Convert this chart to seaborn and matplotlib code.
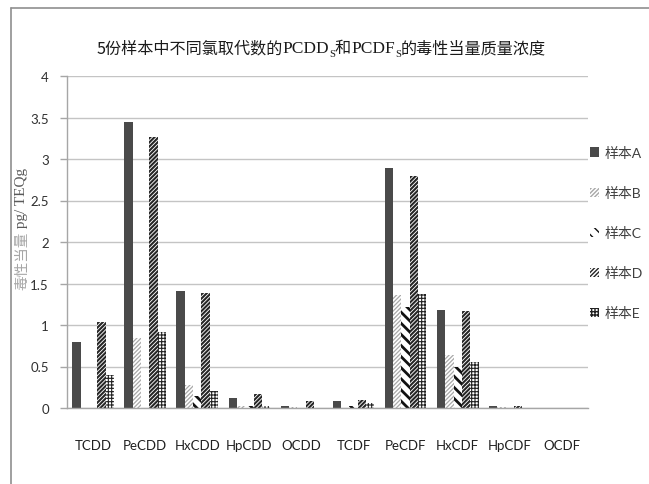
import matplotlib
matplotlib.use("Agg")
import matplotlib.pyplot as plt
import numpy as np
import pandas as pd
import seaborn as sns
from matplotlib.patches import Patch
from matplotlib.lines import Line2D

# Congener groups and per-sample toxic equivalent concentrations (pg TEQ/g)
congeners = ["TCDD", "PeCDD", "HxCDD", "HpCDD", "OCDD",
             "TCDF", "PeCDF", "HxCDF", "HpCDF", "OCDF"]
samples = ["样本A", "样本B", "样本C", "样本D", "样本E"]
teq_a = [0.79, 3.45, 1.41, 0.12, 0.02, 0.08, 2.89, 1.18, 0.02, 0.0]
teq_b = [0.0, 0.84, 0.28, 0.02, 0.01, 0.0, 1.36, 0.64, 0.01, 0.0]
teq_c = [0.0, 0.0, 0.15, 0.03, 0.0, 0.02, 1.22, 0.50, 0.005, 0.0]
teq_d = [1.04, 3.26, 1.39, 0.17, 0.08, 0.10, 2.80, 1.17, 0.03, 0.0]
teq_e = [0.40, 0.92, 0.20, 0.03, 0.0, 0.06, 1.37, 0.55, 0.0, 0.0]
y_ticks = [0, 0.5, 1, 1.5, 2, 2.5, 3, 3.5, 4]

series = [teq_a, teq_b, teq_c, teq_d, teq_e]
df = pd.DataFrame({
    "congener": np.repeat([congeners], len(samples), axis=0).ravel(),
    "sample": np.repeat(samples, len(congeners)),
    "teq": np.concatenate(series),
})

sns.set_theme(style="white")
plt.rcParams["font.family"] = ["Lato", "Noto Sans CJK SC", "DejaVu Sans"]
plt.rcParams["hatch.linewidth"] = 1.0

fig = plt.figure(figsize=(6.49, 4.85), dpi=100)
ax = fig.add_axes([67 / 649, 1 - 409 / 485, 521 / 649, 332 / 485])

sns.barplot(data=df, x="congener", y="teq", hue="sample", order=congeners,
            hue_order=samples, width=0.8, gap=0, errorbar=None,
            legend=False, ax=ax)

# fill styles per sample: (face, hatch, hatch colour, hatch width)
styles = [
    ("#4a4a4a", None, "#4a4a4a", 1.0),
    ("white", "////////", "#a8a8a8", 0.9),
    ("white", "\\\\\\", "#111111", 2.0),
    ("white", "////////", "#262626", 1.5),
    ("white", "+++++", "#222222", 0.8),
]
for cont, (fc, hatch, hc, hlw) in zip(ax.containers, styles):
    for p in cont:
        p.set_facecolor(fc)
        p.set_edgecolor(hc)
        p.set_linewidth(0)
        if hatch:
            p.set_hatch(hatch)
            if hasattr(p, "set_hatch_linewidth"):
                p.set_hatch_linewidth(hlw)

ax.set_ylim(0, 4)
ax.set_xlim(-0.5, len(congeners) - 0.5)
ax.set_yticks(y_ticks)
ax.set_yticklabels([f"{t:g}" for t in y_ticks])
ax.yaxis.grid(True, color="#c4c4c4", linewidth=1.0)
ax.set_axisbelow(True)
for s in ["top", "right"]:
    ax.spines[s].set_visible(False)
ax.spines["left"].set_color("#a6a6a6")
ax.spines["bottom"].set_color("#a6a6a6")
ax.spines["left"].set_linewidth(1.0)
ax.spines["bottom"].set_linewidth(1.0)
ax.tick_params(axis="y", which="major", left=True, length=5, width=1,
               color="#a6a6a6", labelsize=9.5, labelcolor="#303030", pad=8)
ax.tick_params(axis="x", bottom=False, labelsize=9.5, labelcolor="#202020",
               pad=16)
ax.set_xlabel("")
ax.set_ylabel("")

# legend with small square keys
handles = []
for (fc, hatch, hc, hlw), name in zip(styles, samples):
    h = Patch(facecolor=fc, edgecolor=hc, hatch=hatch, linewidth=0)
    if hatch and hasattr(h, "set_hatch_linewidth"):
        h.set_hatch_linewidth(hlw)
    handles.append(h)
fig.legend(handles=handles, labels=samples, loc="upper left",
           bbox_to_anchor=(590 / 649, 1 - 147 / 485), frameon=False,
           fontsize=10, labelcolor="#404040", handlelength=0.65,
           handleheight=0.65, handletextpad=0.4, labelspacing=1.95,
           borderaxespad=0, borderpad=0)

# outer frame lines
fig.add_artist(Line2D([10.5 / 649, 10.5 / 649], [0, 1 - 9 / 485],
                      transform=fig.transFigure, color="#8f8f8f", lw=1.2))
fig.add_artist(Line2D([10.5 / 649, 1], [1 - 9 / 485, 1 - 9 / 485],
                      transform=fig.transFigure, color="#8f8f8f", lw=1.2))

# title made of runs so the subscripts sit lower
cjk = ["Noto Sans CJK SC", "DejaVu Sans"]
serif = ["Liberation Serif", "Noto Sans CJK SC"]
runs = [
    ("5份样本中不同氯取代数的", cjk, 11.6, 0),
    ("PCDD", serif, 12.5, 0),
    ("S", serif, 7.5, -4),
    ("和", cjk, 11.6, 0),
    ("PCDF", serif, 12.5, 0),
    ("S", serif, 7.5, -4),
    ("的毒性当量质量浓度", cjk, 11.6, 0),
]
fig.canvas.draw()
renderer = fig.canvas.get_renderer()
texts = []
widths = []
for s, fam, size, dy in runs:
    t = fig.text(0, 0, s, family=fam, fontsize=size, color="#1a1a1a",
                 ha="left", va="baseline")
    texts.append((t, dy))
    widths.append(t.get_window_extent(renderer).width)
W, H = fig.bbox.width, fig.bbox.height
x0 = 321 - sum(widths) / 2
base = 53
x = x0
for (t, dy), w in zip(texts, widths):
    t.set_position((x / W, 1 - (base - dy) / H))
    x += w

# y-axis title: grey CJK part followed by the unit, reading bottom to top
ylab_runs = [("毒性当量", cjk, 10.5, "#a6a6a6"),
             (" pg/ TEQg", serif, 11.0, "#595959")]
ytexts = []
heights = []
for s, fam, size, col in ylab_runs:
    t = fig.text(0, 0, s, family=fam, fontsize=size, color=col,
                 rotation=90, ha="left", va="center",
                 rotation_mode="anchor")
    ytexts.append(t)
    heights.append(t.get_window_extent(renderer).height)
ybot = 290
y = ybot
for t, h in zip(ytexts, heights):
    t.set_position((22 / W, 1 - y / H))
    y -= h

fig.savefig("out.png", dpi=100)
